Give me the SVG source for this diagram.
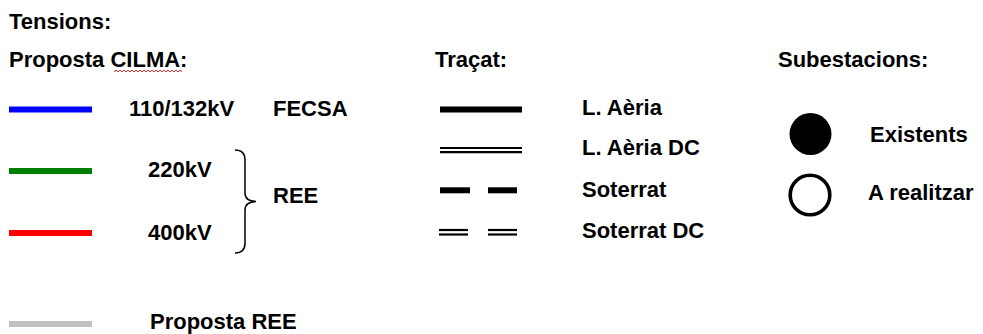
<svg xmlns="http://www.w3.org/2000/svg" width="983" height="334" viewBox="0 0 983 334">
<style>
text{font-family:"Liberation Sans",Arial,sans-serif;font-weight:bold;font-size:22px;fill:#000}
.ln{stroke-width:6;fill:none}
.blk{stroke:#000;fill:none}
</style>
<rect width="983" height="334" fill="#fff"/>
<g id="titles">
<text x="9" y="29">Tensions:</text>
<text x="9" y="67">Proposta CILMA:</text>
<path d="M114,72 l2,-2 l2,2 l2,-2 l2,2 l2,-2 l2,2 l2,-2 l2,2 l2,-2 l2,2 l2,-2 l2,2 l2,-2 l2,2 l2,-2 l2,2 l2,-2 l2,2 l2,-2 l2,2 l2,-2 l2,2 l2,-2 l2,2 l2,-2 l2,2 l2,-2 l2,2 l2,-2 l2,2 l2,-2 l2,2 l2,-2 l2,2" stroke="#e03030" stroke-width="1" fill="none"/>
<text x="435" y="67">Traçat:</text>
<text x="778" y="67">Subestacions:</text>
</g>
<g id="tension-110">
<line class="ln" x1="9" y1="109.5" x2="92" y2="109.5" stroke="#0000ff"/>
<text x="129" y="116">110/132kV</text>
<text x="273" y="116">FECSA</text>
</g>
<g id="tension-220">
<line class="ln" x1="9" y1="171" x2="92" y2="171" stroke="#008000"/>
<text x="148" y="177">220kV</text>
</g>
<g id="tension-400">
<line class="ln" x1="9" y1="233" x2="92" y2="233" stroke="#ff0000"/>
<text x="148" y="240">400kV</text>
</g>
<g id="ree-brace">
<path class="blk" stroke-width="1.5" d="M235,150 Q245,150 245,160 L245,193 Q245,201 256,201.5 Q245,202 245,210 L245,243 Q245,253 235,253"/>
<text x="273" y="203">REE</text>
</g>
<g id="proposta-ree">
<line class="ln" x1="9" y1="324" x2="92" y2="324" stroke="#c0c0c0"/>
<text x="150" y="329">Proposta REE</text>
</g>
<g id="traz-aeria">
<line class="blk" x1="440" y1="109.5" x2="522" y2="109.5" stroke-width="6"/>
<text x="582" y="115">L. Aèria</text>
</g>
<g id="traz-aeria-dc">
<line class="blk" x1="440" y1="148" x2="522" y2="148" stroke-width="2.2"/>
<line class="blk" x1="440" y1="152.2" x2="522" y2="152.2" stroke-width="2.2"/>
<text x="582" y="155">L. Aèria DC</text>
</g>
<g id="traz-soterrat">
<line class="blk" x1="440" y1="190.3" x2="470" y2="190.3" stroke-width="6"/>
<line class="blk" x1="488" y1="190.3" x2="517" y2="190.3" stroke-width="6"/>
<text x="582" y="197">Soterrat</text>
</g>
<g id="traz-soterrat-dc">
<line class="blk" x1="439" y1="230" x2="468" y2="230" stroke-width="2.2"/>
<line class="blk" x1="439" y1="234.5" x2="468" y2="234.5" stroke-width="2.2"/>
<line class="blk" x1="488" y1="230" x2="517" y2="230" stroke-width="2.2"/>
<line class="blk" x1="488" y1="234.5" x2="517" y2="234.5" stroke-width="2.2"/>
<text x="582" y="238">Soterrat DC</text>
</g>
<g id="sub-existents">
<circle cx="810.5" cy="134" r="21" fill="#000"/>
<text x="870" y="142">Existents</text>
</g>
<g id="sub-realitzar">
<circle cx="810" cy="195" r="19.8" fill="none" stroke="#000" stroke-width="3.6"/>
<text x="868" y="200">A realitzar</text>
</g>
</svg>
